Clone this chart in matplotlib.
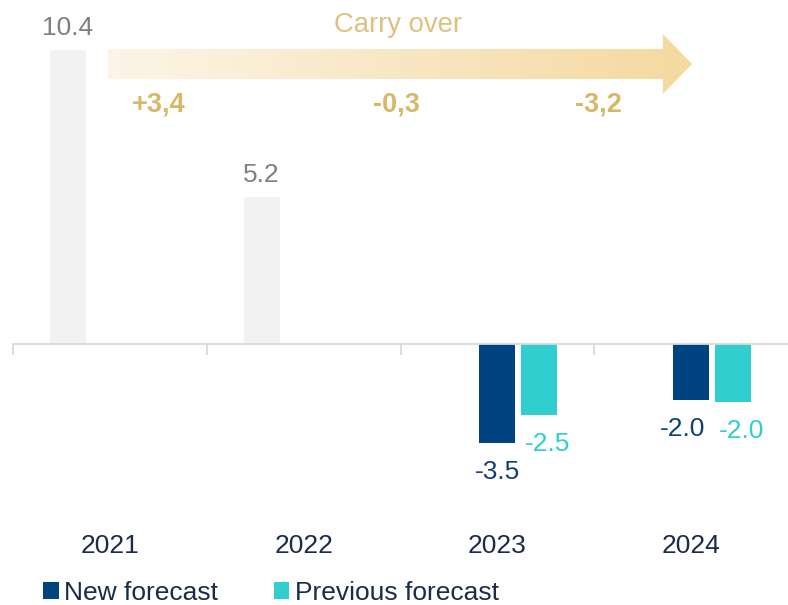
import numpy as np
import matplotlib
matplotlib.use('Agg')
import matplotlib.pyplot as plt
import matplotlib.transforms as mtransforms
from matplotlib.patches import Polygon, Patch
from matplotlib.colors import LinearSegmentedColormap

plt.rcParams['font.family'] = ['Liberation Sans', 'DejaVu Sans']

# data
years = ['2021', '2022', '2023', '2024']
actual = [10.4, 5.2, np.nan, np.nan]
new_forecast = [np.nan, np.nan, -3.5, -1.96]
prev_forecast = [np.nan, np.nan, -2.5, -2.04]
carry_labels = ['+3,4', '-0,3', '-3,2']
carry_pos = [0.25, 1.48, 2.52]   # x of the carry over numbers (category units)

grey = '#f2f2f2'
navy = '#004381'
teal = '#30cece'
gold_txt = '#dcc27e'
gold_bold = '#d6b868'
dark_txt = '#1b2b4a'
fs = 19

W, H = 788, 605
fig = plt.figure(figsize=(W/100, H/100), dpi=100)
# axes covers the whole height, x from the first tick to the right edge
ax = fig.add_axes([13/W, 0, 775/W, 1])
ax.set_xlim(-0.5, 3.5)
ax.set_ylim(-9.22, 12.16)

# pixel coords (origin top-left) for decorations
fig_px = mtransforms.Affine2D().scale(1/W, -1/H).translate(0, 1) + fig.transFigure

x = np.arange(len(years))
off = 0.217
bw = 0.186
ax.bar(x - off, actual, bw, color=grey)
ax.bar(x, new_forecast, bw, color=navy)
ax.bar(x + off, prev_forecast, bw, color=teal)

# axis line + small ticks at category boundaries
for s in ['top', 'right', 'left']:
    ax.spines[s].set_visible(False)
ax.spines['bottom'].set_position(('data', 0))
ax.spines['bottom'].set_color('#d9d9d9')
ax.spines['bottom'].set_linewidth(1.3)
ax.set_yticks([])
ax.set_xticks(np.arange(-0.5, 3.0, 1.0))
ax.set_xticklabels([])
ax.tick_params(axis='x', direction='out', length=8, width=1.3, color='#d9d9d9')

# value labels
def lab(xs, vals, color, dx=None):
    for i, (xx, v) in enumerate(zip(xs, vals)):
        if np.isnan(v):
            continue
        shift = 0 if dx is None else dx[i]
        if v >= 0:
            dy = 10.8
        else:
            dy = -25.9
        ax.annotate(f'{v:.1f}', (xx, v), xytext=(shift, dy), textcoords='offset points',
                    ha='center', va='baseline', fontsize=fs, color=color)

lab(x - off, actual, '#7f7f7f')
lab(x, new_forecast, '#123f76', dx=[0, 0, 0, -6])
lab(x + off, prev_forecast, teal, dx=[0, 0, 6, 6])

# year labels
for xx, yr in zip(x, years):
    ax.text(xx, 553, yr, transform=mtransforms.blended_transform_factory(ax.transData, fig_px),
            ha='center', va='baseline', fontsize=fs, color=dark_txt)

# carry over arrow with gradient
ax2 = fig.add_axes([108/W, 1 - 94/H, (692-108)/W, 60/H])
ax2.set_xlim(0, 1)
ax2.set_ylim(0, 1)
ax2.axis('off')
cmap = LinearSegmentedColormap.from_list('gold', ['#fcf5e8', '#f5d99f'])
grad = np.linspace(0, 1, 256).reshape(1, -1)
im = ax2.imshow(grad, extent=[0, 1, 0, 1], aspect='auto', cmap=cmap, zorder=1)
arrow = Polygon([[0, 0.25], [0.95, 0.25], [0.95, 0], [1, 0.5], [0.95, 1], [0.95, 0.75], [0, 0.75]],
                closed=True, facecolor='none', edgecolor='none', transform=ax2.transAxes)
ax2.add_patch(arrow)
im.set_clip_path(arrow)

fig.text(398, 32, 'Carry over', transform=fig_px, ha='center', va='baseline',
         fontsize=19.8, color=gold_txt)
for cx, cl in zip(carry_pos, carry_labels):
    ax.text(cx, 112, cl, transform=mtransforms.blended_transform_factory(ax.transData, fig_px),
            ha='center', va='baseline', fontsize=19.5, fontweight='bold', color=gold_bold)

# legend
handles = [Patch(facecolor=navy), Patch(facecolor=teal)]
leg = fig.legend(handles, ['New forecast', 'Previous forecast'], ncol=2,
                 loc='lower left', bbox_to_anchor=(43/W, 0), bbox_transform=fig.transFigure,
                 frameon=False, fontsize=fs, handlelength=0.6, handleheight=0.6,
                 handletextpad=0.2, columnspacing=2.1, borderpad=0, borderaxespad=0)
for t in leg.get_texts():
    t.set_color(dark_txt)

fig.savefig('out.png', dpi=100)
